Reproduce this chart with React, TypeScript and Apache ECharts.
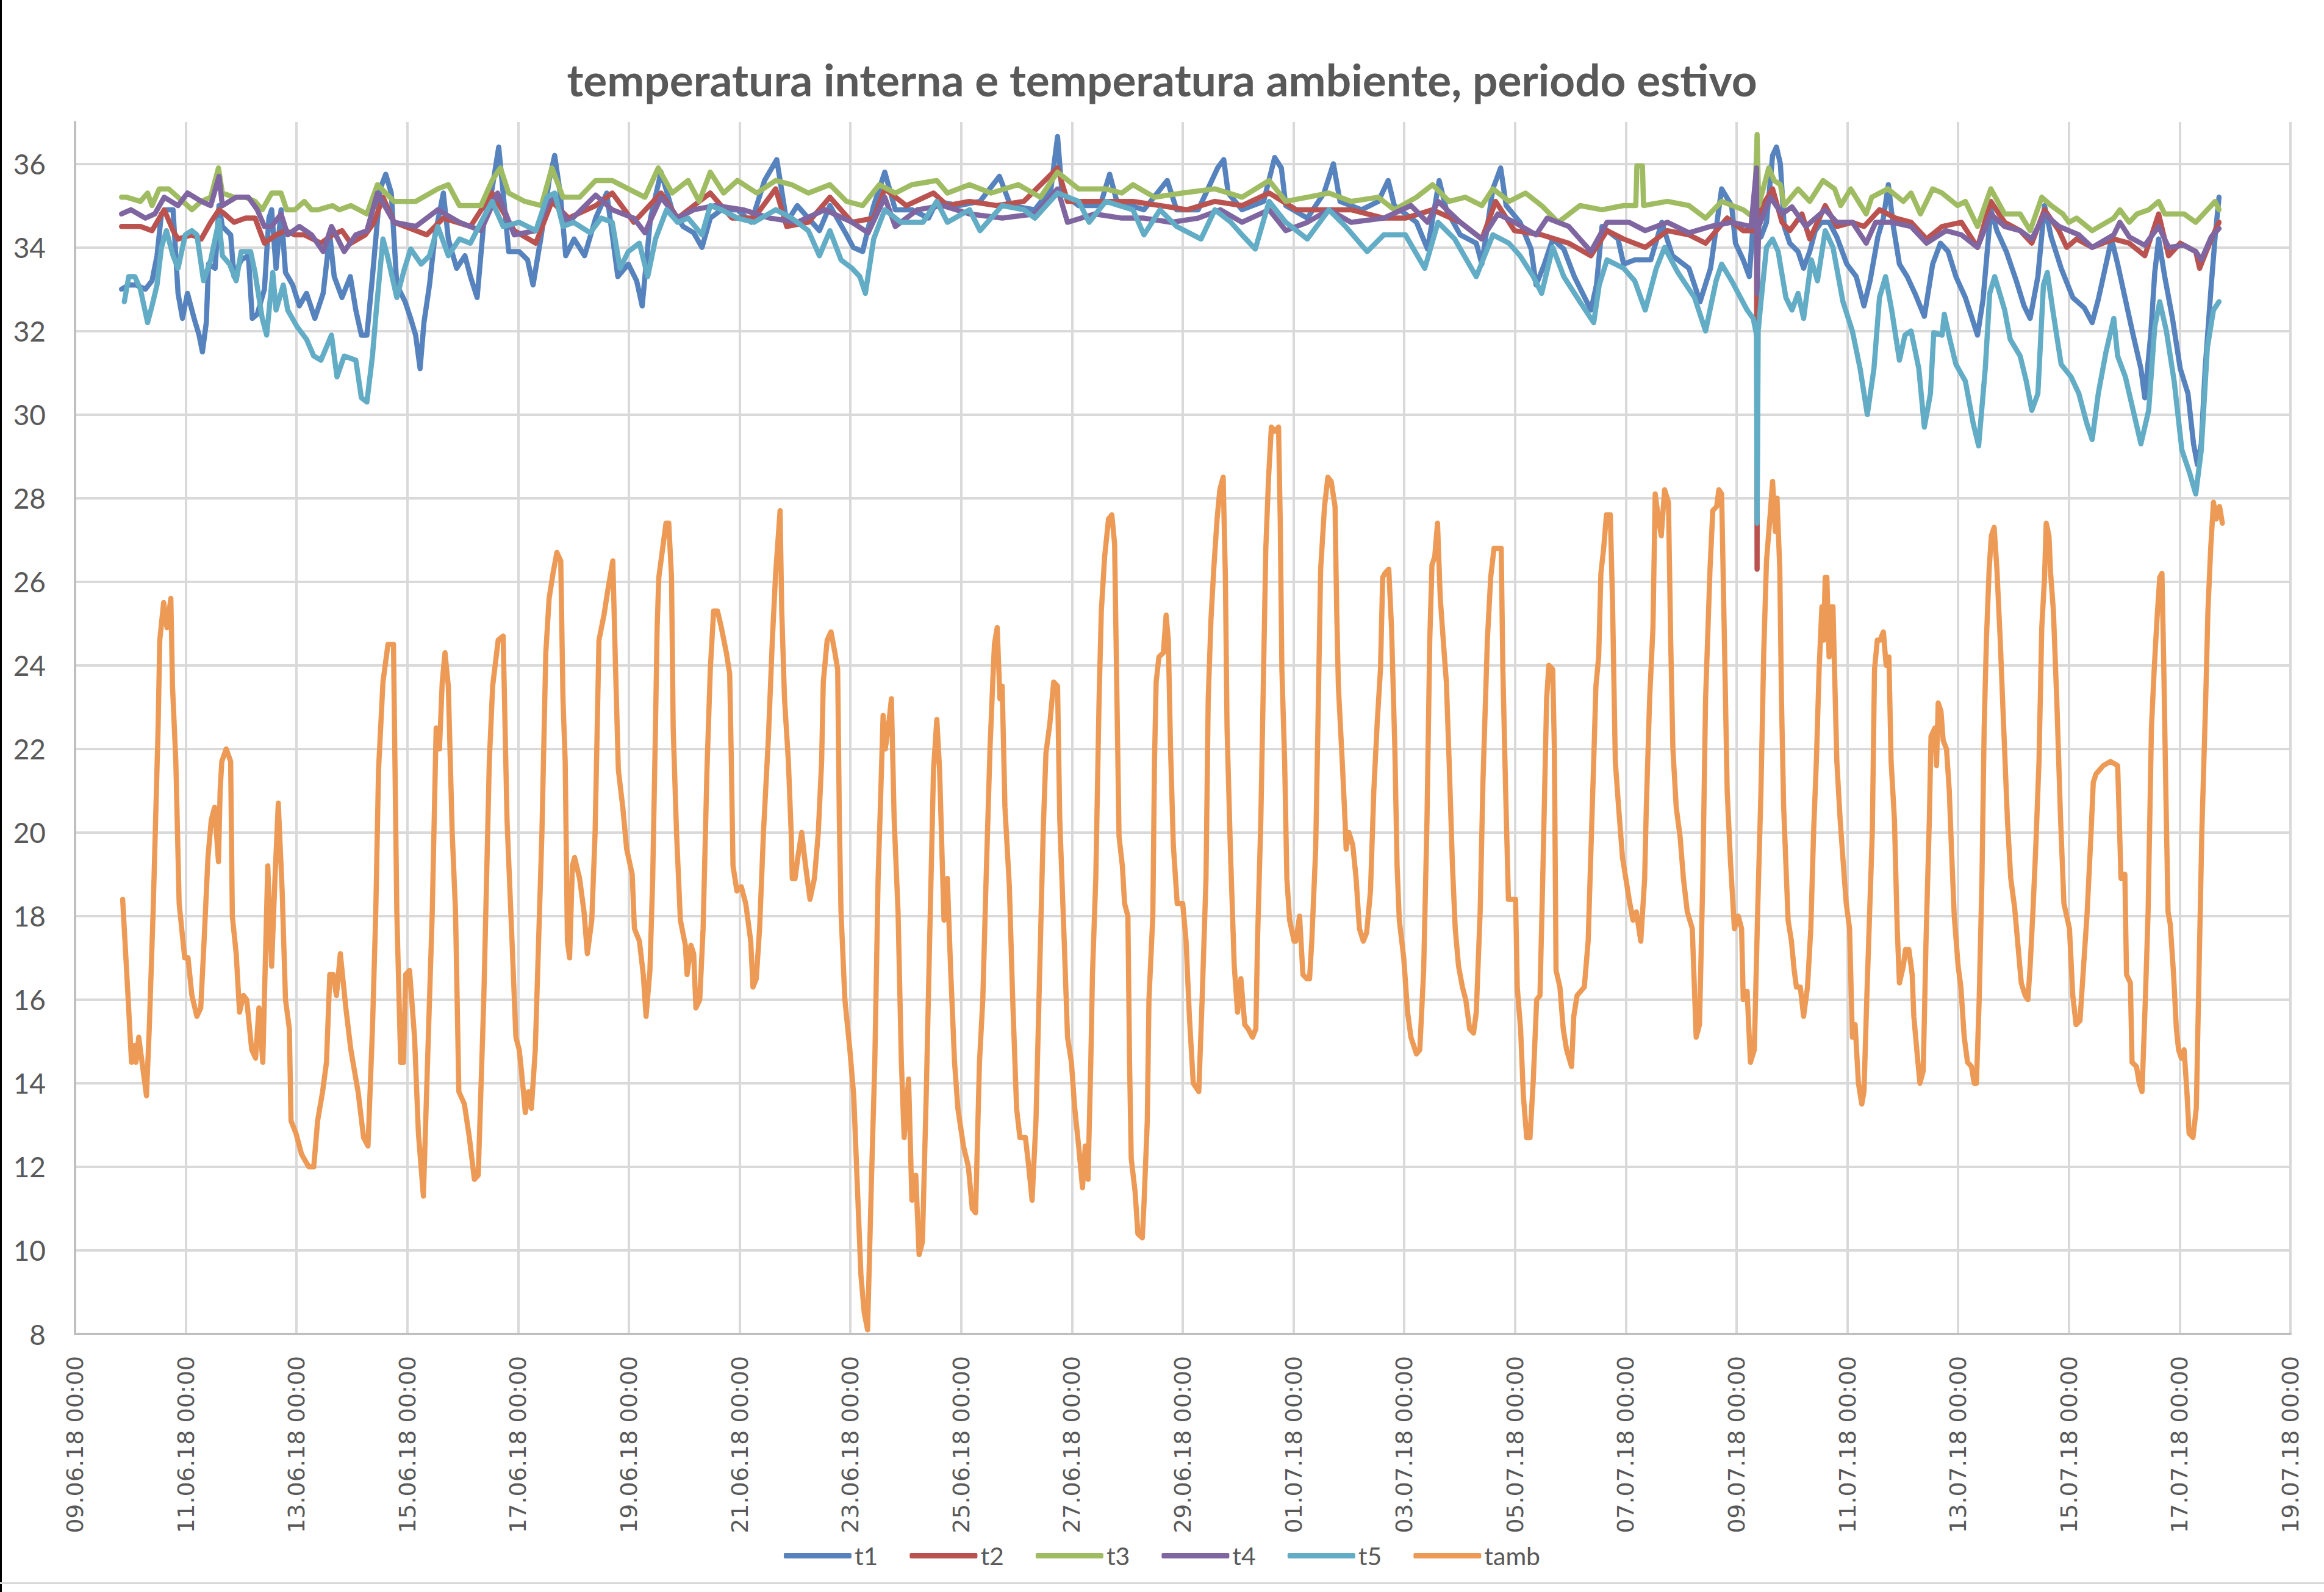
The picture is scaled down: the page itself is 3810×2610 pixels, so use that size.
import React, { useEffect, useRef } from 'react';
import * as echarts from 'echarts';

const DAY = 86400000;
const START = Date.UTC(2018, 5, 9);
const END = Date.UTC(2018, 6, 19);

const TITLE = 'temperatura interna e temperatura ambiente, periodo estivo';
const seriesNames = ['t1', 't2', 't3', 't4', 't5', 'tamb'];
const seriesColors = ['#5683BD', '#BA534F', '#A0BC62', '#7F66A1', '#62ACC6', '#EC9A55'];
const yTicks = { min: 8, max: 37, step: 2 };

// [day offset from 09.06.18 00:00, value °C]
const t1: number[][] = [
  [0.84,33.0],[0.97,33.1],[1.10,33.1],[1.27,33.0],[1.39,33.2],[1.48,33.8],[1.56,34.8],[1.65,34.9],[1.77,34.9],[1.86,32.9],[1.94,32.3],[2.03,32.9],[2.15,32.3],[2.24,31.9],[2.30,31.5],[2.37,32.2],[2.41,33.6],[2.53,33.5],[2.60,35.0],[2.66,34.5],[2.81,34.3],[2.87,33.3],[3.0,33.7],[3.13,33.8],[3.20,32.3],[3.29,32.4],[3.42,33.0],[3.50,34.7],[3.55,34.9],[3.63,33.5],[3.72,34.9],[3.80,33.4],[3.93,33.1],[4.05,32.6],[4.18,32.9],[4.33,32.3],[4.48,32.9],[4.60,34.3],[4.68,33.3],[4.82,32.8],[4.97,33.3],[5.07,32.5],[5.17,31.9],[5.27,31.9],[5.37,33.3],[5.51,35.4],[5.61,35.75],[5.71,35.3],[5.81,33.1],[5.96,32.7],[6.06,32.3],[6.15,31.9],[6.23,31.1],[6.30,32.2],[6.40,33.1],[6.50,34.3],[6.65,35.3],[6.74,34.2],[6.89,33.5],[7.04,33.8],[7.14,33.3],[7.26,32.8],[7.38,34.6],[7.53,35.4],[7.65,36.4],[7.73,35.3],[7.83,33.9],[8.02,33.9],[8.17,33.7],[8.27,33.1],[8.42,34.3],[8.56,35.6],[8.66,36.2],[8.76,35.3],[8.86,33.8],[9.01,34.2],[9.20,33.8],[9.40,34.7],[9.60,35.3],[9.80,33.3],[9.99,33.6],[10.14,33.2],[10.24,32.6],[10.39,34.7],[10.58,35.8],[10.78,34.9],[10.98,34.5],[11.17,34.35],[11.32,34.0],[11.47,34.7],[11.67,34.9],[11.96,34.9],[12.21,34.6],[12.45,35.6],[12.67,36.1],[12.85,34.6],[13.04,35.0],[13.24,34.7],[13.44,34.4],[13.63,35.0],[13.93,34.3],[14.05,34.0],[14.22,33.9],[14.42,35.0],[14.62,35.8],[14.81,34.9],[15.11,34.9],[15.41,34.7],[15.56,35.1],[15.95,35.0],[16.34,35.1],[16.69,35.7],[16.89,35.0],[17.33,34.9],[17.62,35.4],[17.74,36.65],[17.82,35.3],[18.12,35.0],[18.51,35.0],[18.68,35.75],[18.81,35.1],[19.30,34.9],[19.72,35.6],[19.89,34.9],[20.28,34.9],[20.63,35.9],[20.74,36.1],[20.82,35.3],[21.07,34.9],[21.46,35.1],[21.66,36.15],[21.78,35.9],[21.86,35.0],[22.25,34.7],[22.55,35.3],[22.72,36.0],[22.84,35.1],[23.23,34.9],[23.53,35.1],[23.71,35.6],[23.82,35.0],[24.22,34.6],[24.42,33.96],[24.63,35.6],[24.76,34.9],[25.01,34.3],[25.30,34.1],[25.40,33.6],[25.60,35.4],[25.74,35.9],[25.84,35.0],[26.09,34.6],[26.29,33.96],[26.38,33.1],[26.53,33.6],[26.68,34.2],[26.88,33.96],[27.07,33.3],[27.37,32.5],[27.47,33.1],[27.57,34.5],[27.86,34.2],[27.96,33.6],[28.16,33.7],[28.45,33.7],[28.65,34.6],[28.84,33.8],[29.14,33.5],[29.34,32.7],[29.53,33.5],[29.73,35.4],[29.91,35.0],[29.98,34.1],[30.12,33.7],[30.23,33.3],[30.30,34.6],[30.44,34.25],[30.54,34.6],[30.65,36.2],[30.72,36.4],[30.79,36.0],[30.86,34.5],[30.96,34.1],[31.11,33.9],[31.21,33.5],[31.32,33.9],[31.42,34.4],[31.53,34.6],[31.67,34.6],[31.81,34.25],[31.99,33.6],[32.16,33.3],[32.30,32.6],[32.41,33.2],[32.55,34.25],[32.65,34.7],[32.74,35.5],[32.83,34.5],[32.94,33.6],[33.08,33.3],[33.22,32.9],[33.39,32.35],[33.54,33.6],[33.68,34.1],[33.82,33.9],[33.96,33.3],[34.13,32.8],[34.35,31.9],[34.45,32.75],[34.59,34.9],[34.70,34.4],[34.87,33.9],[35.05,33.2],[35.19,32.6],[35.30,32.3],[35.44,33.3],[35.56,35.0],[35.68,34.25],[35.86,33.5],[36.07,32.8],[36.28,32.55],[36.42,32.2],[36.53,32.75],[36.77,34.2],[36.88,33.6],[37.02,32.75],[37.16,31.9],[37.30,31.1],[37.37,30.4],[37.48,31.96],[37.55,33.4],[37.62,34.2],[37.73,33.3],[37.87,32.3],[38.01,31.1],[38.15,30.5],[38.25,29.3],[38.32,28.8],[38.39,29.3],[38.46,31.1],[38.57,33.1],[38.64,34.25],[38.71,35.2]
];

const t2: number[][] = [
  [0.84,34.5],[1.18,34.5],[1.39,34.4],[1.61,34.9],[1.77,34.4],[1.86,34.2],[2.11,34.3],[2.28,34.2],[2.45,34.6],[2.60,34.9],[2.70,34.8],[2.87,34.6],[3.08,34.7],[3.25,34.7],[3.42,34.1],[3.63,34.3],[3.80,34.4],[3.97,34.3],[4.14,34.3],[4.44,34.1],[4.65,34.3],[4.82,34.4],[4.98,34.1],[5.24,34.3],[5.40,34.6],[5.56,35.2],[5.76,34.6],[5.96,34.5],[6.35,34.3],[6.65,34.7],[7.14,34.5],[7.53,35.3],[7.93,34.4],[8.32,34.1],[8.61,35.1],[8.91,34.7],[9.40,35.0],[9.70,35.3],[10.09,34.6],[10.58,35.3],[10.88,34.7],[11.47,35.3],[11.86,34.7],[12.26,34.7],[12.65,35.4],[12.85,34.5],[13.24,34.6],[13.63,35.2],[14.03,34.6],[14.42,34.7],[14.62,35.4],[15.01,35.0],[15.5,35.3],[15.75,35.0],[16.15,35.1],[16.64,35.0],[17.13,35.1],[17.74,35.9],[17.92,35.1],[18.51,35.1],[19.1,35.1],[19.59,35.0],[20.08,34.9],[20.58,35.1],[21.07,35.0],[21.56,35.3],[22.05,34.9],[22.64,34.9],[23.04,34.9],[23.63,34.7],[24.02,34.7],[24.51,34.9],[25.01,34.6],[25.4,34.2],[25.65,35.1],[25.99,34.4],[26.48,34.3],[26.97,34.1],[27.37,33.8],[27.66,34.4],[27.96,34.2],[28.35,34.0],[28.75,34.4],[29.14,34.3],[29.44,34.1],[29.83,34.7],[30.12,34.4],[30.36,34.4],[30.37,26.3],[30.38,34.6],[30.47,35.0],[30.65,35.4],[30.82,34.6],[30.96,34.4],[31.18,34.8],[31.32,34.2],[31.6,35.0],[31.81,34.5],[32.09,34.6],[32.3,34.5],[32.58,34.9],[32.87,34.7],[33.15,34.6],[33.43,34.2],[33.71,34.5],[34.06,34.6],[34.35,34.0],[34.59,35.1],[34.84,34.6],[35.12,34.4],[35.33,34.1],[35.56,34.9],[35.82,34.4],[35.96,34.0],[36.14,34.2],[36.42,34.0],[36.81,34.2],[37.09,34.1],[37.37,33.8],[37.62,34.8],[37.80,33.8],[38.01,34.1],[38.29,33.9],[38.36,33.5],[38.57,34.2],[38.71,34.6]
];

const t3: number[][] = [
  [0.84,35.2],[0.93,35.2],[1.18,35.1],[1.31,35.3],[1.39,35.0],[1.52,35.4],[1.69,35.4],[1.86,35.2],[2.03,35.0],[2.11,34.9],[2.28,35.1],[2.45,35.2],[2.53,35.6],[2.59,35.9],[2.66,35.3],[2.87,35.2],[3.08,35.2],[3.25,35.1],[3.38,34.9],[3.55,35.3],[3.72,35.3],[3.82,34.9],[3.97,34.9],[4.14,35.1],[4.27,34.9],[4.39,34.9],[4.65,35.0],[4.77,34.9],[4.98,35.0],[5.27,34.8],[5.46,35.5],[5.76,35.1],[6.15,35.1],[6.55,35.4],[6.74,35.5],[6.94,35.0],[7.33,35.0],[7.53,35.6],[7.68,35.9],[7.83,35.3],[8.12,35.1],[8.42,35.0],[8.61,35.9],[8.81,35.2],[9.11,35.2],[9.40,35.6],[9.70,35.6],[9.99,35.4],[10.29,35.2],[10.53,35.9],[10.78,35.3],[11.07,35.6],[11.27,35.1],[11.47,35.8],[11.71,35.3],[11.96,35.6],[12.31,35.3],[12.65,35.6],[12.94,35.5],[13.24,35.3],[13.63,35.5],[13.93,35.1],[14.22,35.0],[14.52,35.5],[14.81,35.3],[15.11,35.5],[15.56,35.6],[15.75,35.3],[16.15,35.5],[16.54,35.3],[17.03,35.5],[17.43,35.2],[17.74,35.8],[18.12,35.4],[18.6,35.4],[18.9,35.3],[19.1,35.5],[19.49,35.2],[19.99,35.3],[20.58,35.4],[21.07,35.2],[21.56,35.6],[21.86,35.1],[22.25,35.2],[22.64,35.3],[23.04,35.1],[23.53,35.2],[23.82,34.9],[24.22,35.2],[24.51,35.5],[24.81,35.1],[25.1,35.2],[25.4,35.0],[25.6,35.4],[25.89,35.1],[26.19,35.3],[26.48,35.0],[26.78,34.6],[27.17,35.0],[27.57,34.9],[27.96,35.0],[28.18,35.0],[28.2,35.95],[28.3,35.95],[28.32,35.0],[28.75,35.1],[29.14,35.0],[29.44,34.7],[29.73,35.1],[30.12,34.9],[30.32,34.7],[30.37,36.7],[30.40,35.0],[30.58,35.9],[30.68,35.6],[30.79,35.5],[30.86,35.0],[31.11,35.4],[31.32,35.1],[31.56,35.6],[31.77,35.4],[31.88,35.0],[32.06,35.4],[32.34,34.8],[32.44,35.2],[32.73,35.4],[33.01,35.1],[33.15,35.3],[33.32,34.8],[33.54,35.4],[33.71,35.3],[33.99,35.0],[34.13,35.1],[34.35,34.5],[34.59,35.4],[34.84,34.8],[35.12,34.8],[35.30,34.4],[35.51,35.2],[35.68,35.0],[35.89,34.8],[36.0,34.6],[36.14,34.7],[36.42,34.4],[36.81,34.7],[36.92,34.9],[37.09,34.6],[37.23,34.8],[37.44,34.9],[37.62,35.1],[37.73,34.8],[37.94,34.8],[38.08,34.8],[38.29,34.6],[38.5,34.9],[38.64,35.1],[38.71,34.9]
];

const t4: number[][] = [
  [0.84,34.8],[1.01,34.9],[1.27,34.7],[1.44,34.8],[1.61,35.2],[1.86,35.0],[2.03,35.3],[2.28,35.1],[2.45,35.0],[2.60,35.7],[2.66,35.0],[2.91,35.2],[3.13,35.2],[3.29,34.9],[3.42,34.5],[3.55,34.5],[3.72,34.8],[3.84,34.3],[4.05,34.5],[4.27,34.3],[4.48,33.9],[4.63,34.5],[4.86,33.9],[5.07,34.3],[5.27,34.4],[5.46,35.3],[5.76,34.6],[6.15,34.5],[6.55,34.9],[6.94,34.6],[7.33,34.4],[7.63,35.3],[7.93,34.3],[8.32,34.4],[8.61,35.25],[8.91,34.6],[9.40,35.25],[9.70,34.9],[10.09,34.7],[10.29,34.35],[10.58,35.2],[10.88,34.7],[11.17,34.9],[11.57,35.0],[12.06,34.9],[12.55,34.7],[13.04,34.6],[13.54,34.9],[14.03,34.6],[14.32,34.35],[14.62,35.2],[14.81,34.5],[15.21,34.9],[15.66,35.0],[16.15,34.8],[16.74,34.7],[17.33,34.8],[17.74,35.4],[17.92,34.6],[18.41,34.8],[18.9,34.7],[19.3,34.7],[19.79,34.6],[20.28,34.7],[20.68,34.9],[21.07,34.6],[21.56,34.9],[21.86,34.4],[22.25,34.6],[22.64,34.9],[23.04,34.6],[23.63,34.7],[24.12,35.0],[24.42,34.6],[24.61,35.1],[25.01,34.6],[25.40,34.2],[25.69,34.8],[25.99,34.6],[26.38,34.3],[26.58,34.7],[26.97,34.5],[27.37,33.9],[27.66,34.6],[28.06,34.6],[28.35,34.4],[28.75,34.6],[29.14,34.35],[29.53,34.5],[29.91,34.6],[30.26,34.5],[30.36,35.9],[30.37,32.9],[30.40,34.5],[30.61,35.2],[30.82,34.8],[31.0,34.97],[31.25,34.5],[31.6,34.9],[31.81,34.6],[32.09,34.6],[32.34,34.1],[32.51,34.6],[32.80,34.6],[33.15,34.5],[33.43,34.1],[33.78,34.4],[34.06,34.3],[34.35,34.0],[34.59,34.8],[34.84,34.5],[35.12,34.4],[35.33,34.2],[35.56,34.8],[35.82,34.5],[36.18,34.3],[36.42,34.0],[36.81,34.3],[36.92,34.6],[37.09,34.25],[37.37,34.05],[37.62,34.5],[37.80,34.0],[38.08,34.05],[38.29,33.9],[38.39,33.7],[38.57,34.25],[38.71,34.45]
];

const t5: number[][] = [
  [0.89,32.7],[0.97,33.3],[1.08,33.3],[1.18,33.0],[1.31,32.2],[1.39,32.6],[1.48,33.1],[1.56,34.0],[1.65,34.4],[1.77,33.8],[1.86,33.5],[1.99,34.3],[2.11,34.4],[2.20,34.3],[2.32,33.2],[2.45,33.7],[2.60,34.65],[2.66,33.8],[2.79,33.6],[2.91,33.2],[3.0,33.9],[3.17,33.9],[3.25,33.4],[3.38,32.3],[3.46,31.9],[3.57,33.4],[3.63,32.5],[3.76,33.1],[3.84,32.5],[4.01,32.1],[4.18,31.8],[4.31,31.4],[4.44,31.3],[4.63,31.9],[4.73,30.9],[4.86,31.4],[5.07,31.3],[5.17,30.4],[5.27,30.3],[5.37,31.4],[5.44,32.5],[5.56,34.2],[5.64,33.8],[5.81,32.8],[5.94,33.45],[6.06,33.96],[6.25,33.6],[6.40,33.8],[6.55,34.5],[6.74,33.8],[6.94,34.2],[7.14,34.1],[7.33,34.6],[7.53,35.1],[7.73,34.5],[8.02,34.6],[8.32,34.4],[8.52,35.2],[8.66,35.3],[8.81,34.5],[9.0,34.6],[9.30,34.35],[9.50,34.7],[9.70,34.6],[9.84,33.5],[9.99,33.9],[10.19,34.1],[10.34,33.3],[10.48,34.2],[10.68,34.9],[10.88,34.6],[11.07,34.7],[11.32,34.3],[11.47,35.0],[11.67,34.9],[11.96,34.7],[12.26,34.6],[12.65,34.9],[12.94,34.7],[13.24,34.4],[13.44,33.8],[13.63,34.4],[13.83,33.7],[14.03,33.5],[14.17,33.3],[14.27,32.9],[14.42,34.2],[14.62,34.9],[14.91,34.6],[15.31,34.6],[15.56,35.1],[15.75,34.6],[16.15,34.9],[16.34,34.4],[16.74,35.0],[17.13,34.9],[17.33,34.7],[17.74,35.3],[18.12,35.1],[18.31,34.6],[18.61,35.1],[19.10,34.9],[19.30,34.3],[19.59,34.9],[19.89,34.5],[20.33,34.2],[20.58,34.9],[20.87,34.6],[21.07,34.3],[21.31,33.96],[21.56,35.1],[21.86,34.6],[22.25,34.2],[22.64,34.9],[22.94,34.5],[23.33,33.9],[23.63,34.3],[24.02,34.3],[24.37,33.5],[24.61,34.6],[24.91,34.2],[25.30,33.3],[25.60,34.3],[25.89,34.1],[26.09,33.8],[26.33,33.3],[26.48,32.9],[26.68,34.0],[26.88,33.3],[27.17,32.7],[27.42,32.2],[27.52,33.1],[27.66,33.7],[27.96,33.5],[28.16,33.2],[28.35,32.5],[28.55,33.5],[28.70,34.0],[28.94,33.4],[29.24,32.8],[29.44,32.0],[29.63,33.2],[29.73,33.6],[29.91,33.2],[30.19,32.5],[30.30,32.3],[30.36,31.9],[30.37,27.4],[30.39,32.0],[30.44,32.7],[30.54,34.0],[30.65,34.2],[30.75,33.9],[30.89,32.8],[31.0,32.5],[31.11,32.9],[31.21,32.3],[31.35,33.7],[31.46,33.2],[31.6,34.4],[31.74,34.0],[31.92,32.7],[32.09,32.0],[32.23,31.1],[32.36,30.0],[32.48,31.1],[32.58,32.8],[32.69,33.3],[32.80,32.5],[32.94,31.3],[33.04,31.9],[33.15,32.0],[33.29,31.1],[33.39,29.7],[33.50,30.5],[33.56,31.96],[33.71,31.9],[33.75,32.4],[33.85,31.8],[33.96,31.2],[34.13,30.8],[34.27,29.8],[34.37,29.25],[34.49,31.1],[34.57,32.9],[34.66,33.3],[34.84,32.5],[34.94,31.8],[35.12,31.4],[35.23,30.8],[35.33,30.1],[35.44,30.5],[35.54,33.1],[35.61,33.4],[35.72,32.4],[35.86,31.2],[36.04,30.9],[36.18,30.5],[36.32,29.8],[36.42,29.4],[36.53,30.5],[36.67,31.5],[36.81,32.3],[36.88,31.4],[37.02,30.9],[37.16,30.1],[37.30,29.3],[37.44,30.1],[37.55,32.1],[37.64,32.7],[37.76,32.0],[37.90,30.8],[38.04,29.15],[38.18,28.6],[38.29,28.1],[38.39,29.15],[38.50,31.6],[38.61,32.5],[38.71,32.7]
];

const tamb: number[][] = [
  [0.86,18.4],[0.96,16.0],[1.02,14.5],[1.07,14.9],[1.10,14.5],[1.15,15.1],[1.21,14.5],[1.29,13.7],[1.34,15.3],[1.41,18.1],[1.50,22.5],[1.53,24.6],[1.60,25.5],[1.66,24.9],[1.73,25.6],[1.76,23.5],[1.82,21.7],[1.88,18.3],[1.98,17.0],[2.04,17.0],[2.11,16.1],[2.20,15.6],[2.27,15.8],[2.33,17.4],[2.40,19.4],[2.46,20.3],[2.52,20.6],[2.59,19.3],[2.62,21.0],[2.65,21.7],[2.73,22.0],[2.81,21.7],[2.84,18.0],[2.91,17.1],[2.97,15.7],[3.04,16.1],[3.10,16.0],[3.19,14.8],[3.26,14.6],[3.32,15.8],[3.39,14.5],[3.48,19.2],[3.55,16.8],[3.61,18.9],[3.67,20.7],[3.74,18.6],[3.80,16.0],[3.87,15.3],[3.90,13.1],[3.99,12.8],[4.09,12.3],[4.22,12.0],[4.31,12.0],[4.38,13.1],[4.47,13.8],[4.54,14.5],[4.60,16.6],[4.66,16.6],[4.72,16.1],[4.79,17.1],[4.89,15.8],[4.98,14.8],[5.11,13.8],[5.21,12.7],[5.29,12.5],[5.37,15.3],[5.43,18.1],[5.48,21.5],[5.56,23.6],[5.65,24.5],[5.75,24.5],[5.81,18.1],[5.88,14.5],[5.93,14.5],[5.97,16.6],[6.04,16.7],[6.13,15.1],[6.20,12.8],[6.29,11.3],[6.36,14.3],[6.45,18.1],[6.52,22.5],[6.58,22.0],[6.63,23.6],[6.68,24.3],[6.74,23.5],[6.81,20.0],[6.87,18.1],[6.93,13.8],[7.03,13.5],[7.12,12.7],[7.21,11.7],[7.28,11.8],[7.38,16.0],[7.48,21.7],[7.54,23.5],[7.64,24.6],[7.73,24.7],[7.80,20.3],[7.89,17.4],[7.96,15.1],[8.02,14.8],[8.06,14.3],[8.13,13.3],[8.19,13.8],[8.24,13.4],[8.31,14.8],[8.37,17.4],[8.43,20.0],[8.50,24.3],[8.56,25.6],[8.63,26.2],[8.70,26.7],[8.77,26.5],[8.81,23.2],[8.85,21.7],[8.89,17.4],[8.93,17.0],[8.98,19.2],[9.02,19.4],[9.11,18.9],[9.19,18.1],[9.25,17.1],[9.33,17.9],[9.39,20.0],[9.46,24.6],[9.55,25.2],[9.62,25.8],[9.71,26.5],[9.76,23.9],[9.81,21.5],[9.89,20.6],[9.96,19.6],
  [10.06,19.0],[10.10,17.7],[10.19,17.4],[10.26,16.6],[10.31,15.6],[10.38,16.7],[10.43,18.9],[10.48,22.5],[10.51,24.9],[10.54,26.1],[10.61,26.8],[10.67,27.4],[10.72,27.4],[10.77,26.1],[10.80,22.5],[10.86,20.0],[10.93,17.9],[11.02,17.3],[11.05,16.6],[11.12,17.3],[11.17,17.1],[11.21,15.8],[11.28,16.0],[11.34,17.7],[11.41,21.5],[11.47,23.9],[11.53,25.3],[11.60,25.3],[11.67,24.9],[11.76,24.3],[11.82,23.8],[11.85,21.7],[11.88,19.2],[11.95,18.6],[12.03,18.7],[12.11,18.3],[12.20,17.4],[12.24,16.3],[12.30,16.5],[12.36,17.7],[12.43,20.0],[12.52,22.3],[12.59,24.6],[12.65,26.2],[12.73,27.7],[12.76,25.3],[12.81,23.2],[12.88,21.7],[12.93,20.0],[12.95,18.9],[13.00,18.9],[13.05,19.4],[13.12,20.0],[13.19,19.2],[13.27,18.4],[13.35,18.9],[13.42,20.0],[13.48,21.7],[13.51,23.6],[13.58,24.6],[13.65,24.8],[13.72,24.3],[13.77,23.9],[13.80,20.3],[13.83,18.1],[13.90,16.0],[13.99,14.8],[14.06,13.7],[14.12,11.7],[14.19,9.4],[14.25,8.5],[14.31,8.1],[14.38,11.7],[14.44,14.5],[14.50,18.9],[14.54,20.6],[14.59,22.8],[14.63,22.0],[14.70,22.7],[14.74,23.2],[14.79,20.3],[14.86,18.1],[14.92,14.5],[14.97,12.7],[15.05,14.1],[15.11,11.2],[15.18,11.8],[15.24,9.9],[15.30,10.2],[15.37,13.8],[15.43,17.4],[15.50,21.5],[15.56,22.7],[15.61,21.5],[15.66,19.2],[15.69,17.9],[15.75,18.9],[15.81,16.7],[15.88,14.5],[15.94,13.4],[16.04,12.5],[16.13,12.0],[16.20,11.0],[16.26,10.9],[16.33,14.5],[16.39,16.0],[16.45,18.9],[16.52,22.0],[16.57,23.6],[16.60,24.5],[16.65,24.9],[16.70,23.2],[16.74,23.5],[16.79,20.6],[16.87,18.7],[16.93,16.0],[17.00,13.4],[17.06,12.7],[17.16,12.7],[17.22,12.0],[17.28,11.2],[17.35,13.1],[17.41,16.3],[17.48,20.0],[17.53,21.9],[17.60,22.6],[17.67,23.6],[17.74,23.5],[17.78,20.3],[17.86,17.4],[17.92,15.1],[17.99,14.5],[18.05,13.4],[18.12,12.5],[18.19,11.5],[18.24,12.5],[18.29,11.7],[18.34,14.5],[18.37,16.6],[18.43,18.9],[18.49,23.2],[18.53,25.3],[18.59,26.6],[18.66,27.5],[18.72,27.6],[18.77,26.9],[18.82,22.5],[18.85,19.9],[18.91,19.2],[18.95,18.3],[19.01,18.0],[19.04,14.5],[19.07,12.2],[19.14,11.4],[19.19,10.4],[19.27,10.3],[19.30,11.1],[19.36,13.1],[19.39,16.0],[19.46,18.0],[19.49,21.7],[19.52,23.6],[19.57,24.2],[19.65,24.3],[19.70,25.2],[19.74,24.6],[19.78,22.0],[19.83,19.7],[19.90,18.3],
  [20.0,18.3],[20.06,17.4],[20.12,15.6],[20.19,14.0],[20.29,13.8],[20.35,16.0],[20.42,18.9],[20.46,23.2],[20.51,25.1],[20.56,26.3],[20.62,27.5],[20.67,28.2],[20.73,28.5],[20.77,26.1],[20.80,22.5],[20.86,19.6],[20.93,16.8],[20.99,15.7],[21.05,16.5],[21.12,15.4],[21.18,15.3],[21.26,15.1],[21.32,15.3],[21.35,17.4],[21.41,20.3],[21.46,23.9],[21.50,26.8],[21.55,28.5],[21.60,29.7],[21.66,29.6],[21.73,29.7],[21.76,27.5],[21.79,23.9],[21.84,21.7],[21.88,18.9],[21.93,17.9],[22.01,17.4],[22.04,17.4],[22.11,18.0],[22.17,16.6],[22.24,16.5],[22.29,16.5],[22.33,17.4],[22.40,19.6],[22.44,22.5],[22.49,26.3],[22.56,27.8],[22.62,28.5],[22.68,28.4],[22.75,27.8],[22.78,25.3],[22.81,23.5],[22.88,21.7],[22.93,20.3],[22.95,19.6],[23.00,20.0],[23.07,19.7],[23.13,18.9],[23.19,17.7],[23.26,17.4],[23.32,17.6],[23.39,18.6],[23.45,21.0],[23.51,22.6],[23.57,23.9],[23.61,26.1],[23.65,26.2],[23.72,26.3],[23.77,24.9],[23.83,22.0],[23.87,19.2],[23.91,17.9],[23.99,17.0],[24.06,15.7],[24.12,15.1],[24.22,14.7],[24.28,14.8],[24.35,16.7],[24.41,20.3],[24.46,24.6],[24.50,26.4],[24.55,26.6],[24.60,27.4],[24.65,25.6],[24.72,24.3],[24.76,23.6],[24.81,21.7],[24.87,19.2],[24.92,17.7],[24.98,16.8],[25.05,16.3],[25.11,16.0],[25.18,15.3],[25.25,15.2],[25.30,15.7],[25.37,18.1],[25.42,21.2],[25.50,24.6],[25.56,26.1],[25.62,26.8],[25.69,26.8],[25.75,26.8],[25.78,23.9],[25.83,21.0],[25.88,18.4],[26.01,18.4],[26.04,16.3],[26.10,15.3],[26.15,13.7],[26.21,12.7],[26.27,12.7],[26.33,14.1],[26.39,16.0],[26.45,16.1],[26.50,18.9],[26.57,23.2],[26.61,24.0],[26.68,23.9],[26.71,22.0],[26.74,16.7],[26.81,16.3],[26.87,15.3],[26.93,14.8],[27.02,14.4],[27.06,15.6],[27.12,16.1],[27.25,16.3],[27.32,17.4],[27.38,20.0],[27.42,21.7],[27.46,23.5],[27.51,24.2],[27.55,26.2],[27.60,26.8],[27.65,27.6],[27.72,27.6],[27.76,25.5],[27.81,21.7],[27.87,20.6],[27.94,19.4],[28.0,18.9],[28.06,18.4],[28.13,17.9],[28.19,18.1],[28.27,17.4],[28.34,18.9],[28.37,20.6],[28.43,23.2],[28.49,24.9],[28.53,28.1],[28.59,27.5],[28.64,27.1],[28.70,28.2],[28.77,27.9],[28.81,24.6],[28.85,22.0],[28.91,20.6],[28.98,19.9],[29.04,18.9],[29.11,18.1],[29.20,17.7],[29.27,15.1],[29.33,15.4],[29.39,18.9],[29.44,23.2],[29.52,26.3],[29.57,27.7],[29.64,27.8],[29.68,28.2],[29.73,28.1],[29.78,24.6],[29.83,21.0],[29.89,19.3],[29.96,17.7],
  [30.03,18.0],[30.09,17.7],[30.12,16.0],[30.19,16.2],[30.25,14.5],[30.32,14.8],[30.38,18.1],[30.44,21.0],[30.49,24.3],[30.54,26.5],[30.60,27.5],[30.65,28.4],[30.70,27.2],[30.73,28.0],[30.78,26.3],[30.81,23.2],[30.85,20.6],[30.93,17.9],[30.99,17.4],[31.04,16.7],[31.08,16.3],[31.15,16.3],[31.21,15.6],[31.28,16.3],[31.34,17.7],[31.39,20.0],[31.44,21.7],[31.49,23.9],[31.54,25.4],[31.57,24.6],[31.60,26.1],[31.63,26.1],[31.67,24.2],[31.71,25.4],[31.74,25.4],[31.77,23.8],[31.81,21.7],[31.87,20.3],[31.94,19.0],[31.98,18.3],[32.04,17.7],[32.09,15.1],[32.14,15.4],[32.20,14.0],[32.26,13.5],[32.30,13.8],[32.35,16.0],[32.40,18.0],[32.45,20.0],[32.49,23.9],[32.54,24.6],[32.59,24.6],[32.65,24.8],[32.70,24.0],[32.75,24.2],[32.79,21.7],[32.85,20.3],[32.90,17.7],[32.94,16.4],[33.01,16.8],[33.05,17.2],[33.11,17.2],[33.17,16.6],[33.20,15.6],[33.26,14.7],[33.31,14.0],[33.37,14.3],[33.42,17.4],[33.48,20.3],[33.51,22.3],[33.58,22.5],[33.61,21.6],[33.64,23.1],[33.69,22.9],[33.73,22.2],[33.79,22.0],[33.84,21.0],[33.88,19.6],[33.93,18.0],[34.00,16.8],[34.05,16.3],[34.11,15.1],[34.17,14.5],[34.24,14.4],[34.29,14.0],[34.33,14.0],[34.38,16.0],[34.43,18.9],[34.47,22.5],[34.51,24.6],[34.56,26.3],[34.60,27.1],[34.65,27.3],[34.70,26.3],[34.76,24.6],[34.82,22.6],[34.89,20.3],[34.95,18.9],[35.02,18.2],[35.08,17.3],[35.14,16.4],[35.21,16.1],[35.26,16.0],[35.30,16.8],[35.35,18.1],[35.40,19.6],[35.46,21.7],[35.51,24.9],[35.56,26.1],[35.59,27.4],[35.64,27.1],[35.67,26.2],[35.72,25.3],[35.78,23.2],[35.85,20.3],[35.91,18.3],[36.01,17.7],[36.07,16.1],[36.13,15.4],[36.20,15.5],[36.26,16.7],[36.33,18.1],[36.40,20.0],[36.44,21.2],[36.49,21.4],[36.62,21.6],[36.75,21.7],[36.88,21.6],[36.91,20.3],[36.94,18.9],[37.01,19.0],[37.04,16.6],[37.11,16.4],[37.14,14.5],[37.22,14.4],[37.27,14.0],[37.32,13.8],[37.38,16.0],[37.43,18.1],[37.49,22.5],[37.54,23.9],[37.59,25.1],[37.64,26.1],[37.68,26.2],[37.71,24.2],[37.75,21.0],[37.79,18.1],[37.83,17.8],[37.89,16.6],[37.94,15.3],[37.98,14.8],[38.03,14.6],[38.08,14.8],[38.13,13.8],[38.17,12.8],[38.24,12.7],[38.30,13.4],[38.35,16.7],[38.40,20.0],[38.47,23.2],[38.51,25.3],[38.56,26.8],[38.61,27.9],[38.66,27.5],[38.72,27.8],[38.77,27.4]
];

const allSeries = [t1, t2, t3, t4, t5, tamb];

const pad = (n: number) => String(n).padStart(2, '0');
const fmtDate = (v: number) => {
  const d = new Date(v);
  return `${pad(d.getUTCDate())}.${pad(d.getUTCMonth() + 1)}.${pad(d.getUTCFullYear() % 100)} ${pad(d.getUTCHours())}:${pad(d.getUTCMinutes())}`;
};

export default function App() {
  const ref = useRef<HTMLDivElement>(null);
  useEffect(() => {
    if (!ref.current) return;
    const chart = echarts.init(ref.current, undefined, { renderer: 'svg' });
    const option: any = {
      animation: false,
      backgroundColor: '#ffffff',
      title: {
        text: TITLE,
        left: 'center',
        top: 88,
        textStyle: { fontFamily: 'Lato', fontWeight: 'bold', fontSize: 73, color: '#595959' },
      },
      grid: { left: 123, right: 55, top: 200, bottom: 423, containLabel: false },
      xAxis: {
        type: 'value',
        min: START,
        max: END,
        interval: 2 * DAY,
        axisLine: { show: true, lineStyle: { color: '#BFBFBF', width: 4 } },
        axisTick: { show: false },
        splitLine: { show: true, lineStyle: { color: '#D9D9D9', width: 4 } },
        axisLabel: {
          rotate: 90,
          margin: 36,
          formatter: (v: number) => fmtDate(v),
          fontFamily: 'DejaVu Sans',
          fontSize: 38,
          color: '#595959',
        },
      },
      yAxis: {
        type: 'value',
        min: yTicks.min,
        max: yTicks.max,
        interval: yTicks.step,
        axisLine: { show: true, lineStyle: { color: '#BFBFBF', width: 4 } },
        axisTick: { show: false },
        splitLine: { show: true, showMaxLine: false, lineStyle: { color: '#D9D9D9', width: 4 } },
        axisLabel: {
          showMaxLabel: false,
          margin: 48,
          fontFamily: 'Lato',
          fontSize: 46,
          color: '#595959',
          formatter: (v: number) => (v > 36 ? '' : String(v)),
        },
      },
      legend: {
        bottom: 34,
        left: 'center',
        icon: 'roundRect',
        itemWidth: 111,
        itemHeight: 9,
        itemGap: 52,
        textStyle: { fontFamily: 'Lato', fontSize: 41, color: '#595959' },
        data: seriesNames,
      },
      graphic: [
        { type: 'rect', left: 0, top: 0, shape: { width: 3, height: 2610 }, style: { fill: '#000000' } },
        { type: 'rect', left: 0, top: 2594, shape: { width: 3810, height: 3 }, style: { fill: '#D9D9D9' } },
      ],
      series: seriesNames.map((name, i) => ({
        name,
        type: 'line',
        showSymbol: false,
        symbol: 'none',
        color: seriesColors[i],
        lineStyle: { width: 8.5, color: seriesColors[i], cap: 'round', join: 'round' },
        data: allSeries[i].map(([d, v]) => [START + d * DAY, v]),
        z: 2 + i,
      })),
    };
    chart.setOption(option);
    return () => chart.dispose();
  }, []);
  return (
    <div
      ref={ref}
      style={{ position: 'fixed', left: 0, top: 0, width: 3810, height: 2610, background: '#ffffff' }}
    />
  );
}
